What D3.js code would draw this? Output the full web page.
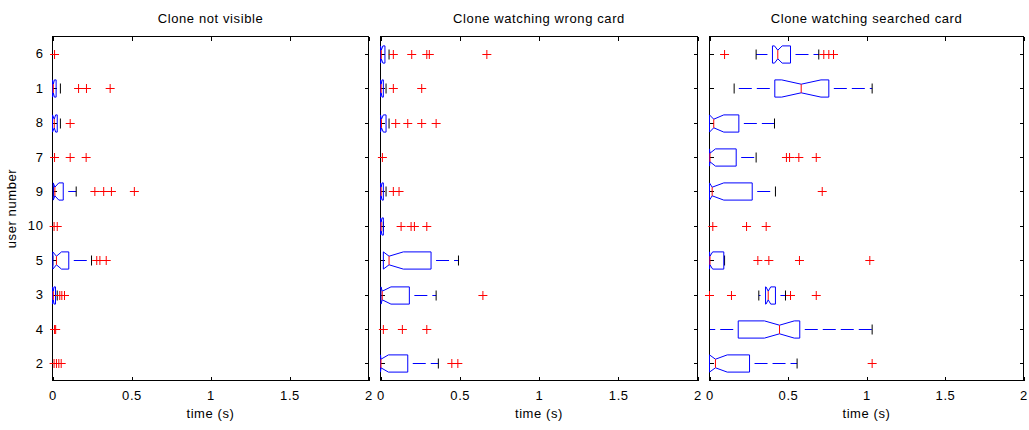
<!DOCTYPE html>
<html>
<head>
<meta charset="utf-8">
<script src="https://cdn.jsdelivr.net/npm/d3@7"></script>
<style>
  body { margin: 0; background: #fff; }
  text { font-family: "Liberation Sans", Arial, sans-serif; font-size: 13px; letter-spacing: 0.6px; fill: #000; }
</style>
</head>
<body>
<div class="chart"></div>
<script>
(function() {
  // users, top to bottom
  var users = [6, 1, 8, 7, 9, 10, 5, 3, 4, 2];
  var xTicks = [0, 0.5, 1, 1.5, 2];
  var titles = ['Clone not visible', 'Clone watching wrong card', 'Clone watching searched card'];

  // per user: [whiskerLo, q1, notchLo, median, notchHi, q3, whiskerHi], null = no box
  var notVisibleBoxes = [
    null,
    [0, 0, 0, 0.005, 0.012, 0.023, 0.05],
    [0, 0, 0, 0.011, 0.02, 0.03, 0.05],
    null,
    [0.005, 0.005, 0.005, 0.015, 0.04, 0.068, 0.15],
    null,
    [0.002, 0.002, 0.002, 0.025, 0.057, 0.103, 0.247],
    [0, 0, 0, 0.005, 0.01, 0.019, 0.03],
    null,
    null
  ];
  var notVisibleOutliers = [
    [0.013],
    [0.165, 0.215, 0.365],
    [0.112],
    [0.013, 0.112, 0.213],
    [0.268, 0.324, 0.373, 0.518],
    [0.01, 0.03],
    [0.28, 0.3, 0.34],
    [0.046, 0.059, 0.076],
    [0.013, 0.02],
    [0.01, 0.025, 0.04, 0.055]
  ];

  var wrongCardBoxes = [
    [0, 0, 0, 0.005, 0.015, 0.028, 0.054],
    [0, 0, 0, 0.004, 0.01, 0.018, 0.035],
    [0, 0, 0, 0.006, 0.018, 0.035, 0.054],
    null,
    [0, 0, 0, 0.004, 0.01, 0.018, 0.035],
    [0, 0, 0, 0.004, 0.01, 0.018, 0.018],
    [0, 0.018, 0.018, 0.054, 0.144, 0.319, 0.492],
    [0, 0.003, 0.003, 0.011, 0.066, 0.182, 0.351],
    null,
    [0, 0, 0, 0.003, 0.05, 0.172, 0.365]
  ];
  var wrongCardOutliers = [
    [0.081, 0.197, 0.292, 0.308, 0.671],
    [0.081, 0.26],
    [0.096, 0.172, 0.26, 0.351],
    [0.012],
    [0.081, 0.117],
    [0.13, 0.193, 0.214, 0.292],
    [],
    [0.646],
    [0.018, 0.138, 0.292],
    [0.45, 0.488]
  ];

  var searchedCardBoxes = [
    [0.297, 0.401, 0.414, 0.435, 0.463, 0.516, 0.696],
    [0.157, 0.416, 0.46, 0.584, 0.71, 0.76, 1.036],
    [0, 0, 0, 0.027, 0.091, 0.187, 0.414],
    [0, 0, 0, 0.003, 0.038, 0.17, 0.297],
    [0, 0, 0, 0.017, 0.091, 0.272, 0.42],
    null,
    [0, 0, 0, 0.003, 0.02, 0.091, 0.096],
    [0.314, 0.357, 0.36, 0.374, 0.39, 0.42, 0.484],
    [0, 0.183, 0.35, 0.446, 0.54, 0.575, 1.036],
    [0, 0, 0, 0.038, 0.113, 0.255, 0.558]
  ];
  var searchedCardOutliers = [
    [0.096, 0.728, 0.76, 0.79],
    [],
    [],
    [0.49, 0.51, 0.569, 0.68],
    [0.718],
    [0.021, 0.236, 0.361],
    [0.308, 0.378, 0.573, 1.021],
    [0, 0.14, 0.516, 0.68],
    [],
    [1.036]
  ];

  var panels = [
    { title: titles[0], boxes: notVisibleBoxes, outliers: notVisibleOutliers, x0: 52.5, x1: 368.5 },
    { title: titles[1], boxes: wrongCardBoxes, outliers: wrongCardOutliers, x0: 380.5, x1: 697.5 },
    { title: titles[2], boxes: searchedCardBoxes, outliers: searchedCardOutliers, x0: 709.5, x1: 1023.5 }
  ];

  var top = 36.5, bottom = 380.5;
  var boxHalf = 8.6, notchHalf = 4.3, capHalf = 5, plusHalf = 4.5;

  var svg = d3.select('.chart')
              .append('svg')
              .attr('width', 1029)
              .attr('height', 430);

  var y = d3.scalePoint()
            .domain(users)
            .range([top, bottom])
            .padding(0.5);

  panels.forEach(function(p, pi) {
    var x = d3.scaleLinear().domain([0, 2]).range([p.x0, p.x1]);
    var g = svg.append('g');

    // axes with inward ticks
    g.append('g').attr('transform', 'translate(0,' + bottom + ')')
      .call(d3.axisBottom(x).tickValues(xTicks).tickSizeInner(-4).tickSizeOuter(0).tickPadding(10)
        .tickFormat(function(d) { return String(d); }));
    g.append('g').attr('transform', 'translate(0,' + top + ')')
      .call(d3.axisTop(x).tickValues(xTicks).tickSizeInner(-4).tickSizeOuter(0).tickFormat(''));
    g.append('g').attr('transform', 'translate(' + p.x0 + ',0)')
      .call(d3.axisLeft(y).tickSizeInner(-4).tickSizeOuter(0).tickPadding(9)
        .tickFormat(pi === 0 ? function(d) { return d; } : ''));
    g.append('g').attr('transform', 'translate(' + p.x1 + ',0)')
      .call(d3.axisRight(y).tickSizeInner(-4).tickSizeOuter(0).tickFormat(''));
    g.selectAll('.domain').remove();
    g.selectAll('.tick line').attr('stroke', '#000').attr('shape-rendering', 'crispEdges');
    g.selectAll('g').attr('font-family', null).attr('font-size', null);

    g.append('rect')
      .attr('x', p.x0).attr('y', top)
      .attr('width', p.x1 - p.x0).attr('height', bottom - top)
      .attr('fill', 'none').attr('stroke', '#000')
      .attr('shape-rendering', 'crispEdges');

    g.append('text')
      .attr('x', (p.x0 + p.x1) / 2).attr('y', 23)
      .attr('text-anchor', 'middle')
      .text(p.title);
    g.append('text')
      .attr('x', (p.x0 + p.x1) / 2).attr('y', 418)
      .attr('text-anchor', 'middle')
      .text('time (s)');

    // boxes
    users.forEach(function(u, i) {
      var b = p.boxes[i];
      var cy = Math.round(y(u)) + 0.5;
      if (b) {
        var wLo = b[0], q1 = b[1], nLo = b[2], med = b[3], nHi = b[4], q3 = b[5], wHi = b[6];
        [[q3, wHi], [q1, wLo]].forEach(function(w) {
          if (w[0] === w[1]) return;
          g.append('line')
            .attr('x1', x(w[0])).attr('x2', x(w[1]))
            .attr('y1', cy).attr('y2', cy)
            .attr('stroke', '#0000ff')
            .attr('stroke-dasharray', '13,5')
            .attr('stroke-dashoffset', 13);
        });
        [wLo, wHi].forEach(function(w) {
          g.append('line')
            .attr('x1', x(w)).attr('x2', x(w))
            .attr('y1', cy - capHalf).attr('y2', cy + capHalf)
            .attr('stroke', '#000');
        });
        var pts = [[q1, -boxHalf], [nLo, -boxHalf], [med, -notchHalf], [nHi, -boxHalf], [q3, -boxHalf],
                   [q3, boxHalf], [nHi, boxHalf], [med, notchHalf], [nLo, boxHalf], [q1, boxHalf]];
        var line = d3.line()
                     .x(function(d) { return x(d[0]); })
                     .y(function(d) { return cy + d[1]; });
        g.append('path')
          .attr('d', line(pts) + 'Z')
          .attr('fill', 'none')
          .attr('stroke', '#0000ff');
        g.append('line')
          .attr('x1', x(med)).attr('x2', x(med))
          .attr('y1', cy - notchHalf).attr('y2', cy + notchHalf)
          .attr('stroke', '#ff0000');
      }
      // outliers as red plus signs
      p.outliers[i].forEach(function(v) {
        g.append('path')
          .attr('d', 'M' + (x(v) - plusHalf) + ',' + cy + 'H' + (x(v) + plusHalf) +
                     'M' + x(v) + ',' + (cy - plusHalf) + 'V' + (cy + plusHalf))
          .attr('stroke', '#ff0000')
          .attr('fill', 'none');
      });
    });
  });

  svg.append('text')
    .attr('transform', 'translate(16,' + (top + bottom) / 2 + ') rotate(-90)')
    .attr('text-anchor', 'middle')
    .text('user number');
}).call(this);
</script>
</body>
</html>
